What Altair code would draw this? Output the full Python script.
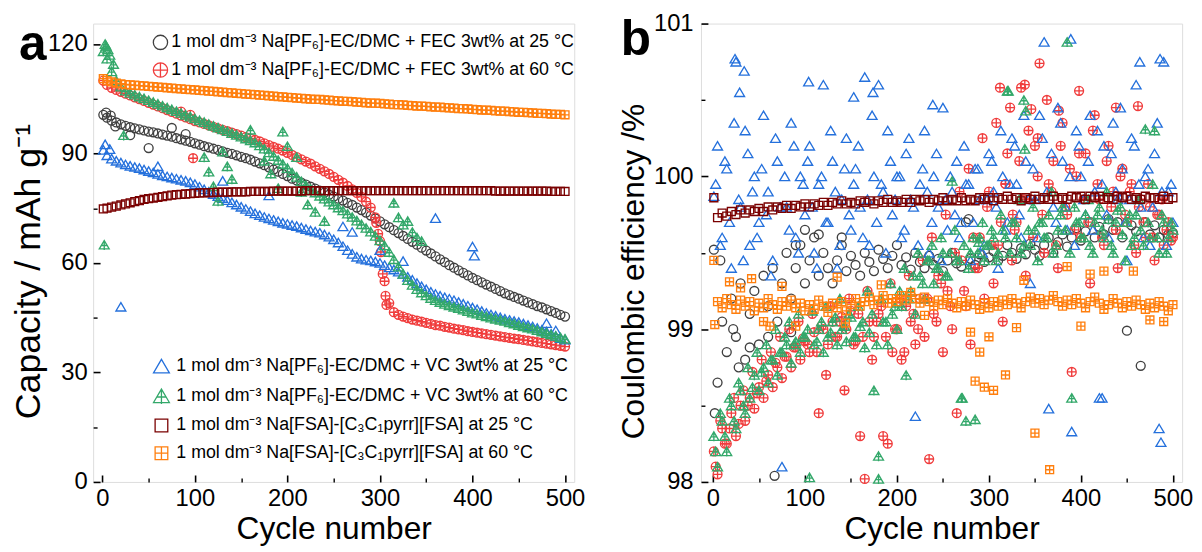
import altair as alt
import pandas as pd

FONT = "Liberation Sans"

# ---------------- series names ----------------
S_FEC25 = "1 mol dm⁻³ Na[PF₆]-EC/DMC + FEC 3wt% at 25 °C"
S_FEC60 = "1 mol dm⁻³ Na[PF₆]-EC/DMC + FEC 3wt% at 60 °C"
S_VC25 = "1 mol dm⁻³ Na[PF₆]-EC/DMC + VC 3wt% at 25 °C"
S_VC60 = "1 mol dm⁻³ Na[PF₆]-EC/DMC + VC 3wt% at 60 °C"
S_FSA25 = "1 mol dm⁻³ Na[FSA]-[C₃C₁pyrr][FSA] at 25 °C"
S_FSA60 = "1 mol dm⁻³ Na[FSA]-[C₃C₁pyrr][FSA] at 60 °C"

CYCLES = [1] + list(range(5, 501, 5))

# ---------------- panel a: capacity / mAh g-1 ----------------
CAP_FEC25 = [100.6, 99.8, 99.0, 98.5, 98.0, 97.6, 97.2, 96.9, 96.6, 96.3, 96.0, 95.8, 95.5, 95.2, 94.9, 94.6, 94.2, 93.9, 93.5, 93.2, 92.8,
             92.4, 92.0, 91.7, 91.3, 91.0, 90.6, 90.2, 89.9, 89.5, 89.1, 88.7, 88.3, 87.8, 87.3, 86.8, 86.2, 85.6, 85.0, 84.4, 83.8,
             83.1, 82.6, 82.0, 81.5, 80.9, 80.4, 79.8, 79.3, 78.7, 78.2, 77.6, 77.1, 76.5, 75.9, 75.2, 74.5, 73.8, 73.0, 72.2, 71.4,
             70.6, 69.8, 69.0, 68.2, 67.4, 66.6, 65.8, 65.0, 64.2, 63.4, 62.6, 61.8, 61.0, 60.2, 59.4, 58.7, 58.0, 57.3, 56.6, 55.9,
             55.3, 54.7, 54.1, 53.5, 52.9, 52.3, 51.7, 51.2, 50.7, 50.2, 49.7, 49.2, 48.7, 48.2, 47.8, 47.3, 46.8, 46.3, 45.8, 45.3]
CAP_FEC60 = [110.0, 108.8, 108.0, 107.4, 106.9, 106.4, 105.9, 105.4, 104.9, 104.4, 103.9, 103.4, 102.9, 102.4, 101.9, 101.4, 100.9, 100.4, 99.9, 99.4, 98.9,
             98.5, 98.1, 97.7, 97.3, 96.9, 96.5, 96.1, 95.7, 95.3, 94.9, 94.5, 94.1, 93.7, 93.3, 92.8, 92.3, 91.8, 91.3, 90.8, 90.2,
             89.6, 89.0, 88.4, 87.8, 87.2, 86.5, 85.8, 85.1, 84.4, 83.6, 82.8, 82.0, 81.1, 80.2, 79.2, 78.1, 76.8, 75.2, 72.5, 66.0,
             55.0, 49.0, 46.5, 45.8, 45.3, 44.9, 44.5, 44.2, 43.9, 43.6, 43.3, 43.0, 42.8, 42.5, 42.3, 42.0, 41.8, 41.6, 41.3, 41.1,
             40.9, 40.7, 40.5, 40.3, 40.1, 39.9, 39.7, 39.5, 39.3, 39.1, 38.9, 38.7, 38.5, 38.3, 38.1, 37.9, 37.7, 37.5, 37.3, 37.1]
CAP_VC25 = [91.0, 89.5, 88.6, 88.0, 87.5, 87.0, 86.6, 86.3, 86.0, 85.6, 85.2, 84.8, 84.4, 84.0, 83.7, 83.4, 83.1, 82.8, 82.5, 82.1, 81.6,
            80.9, 80.2, 79.5, 78.9, 78.3, 77.8, 77.2, 76.6, 76.0, 75.4, 74.8, 74.2, 73.6, 73.1, 72.6, 72.2, 71.8, 71.4, 71.0, 70.7,
            70.4, 70.1, 69.7, 69.3, 68.9, 68.6, 68.3, 67.8, 67.2, 66.5, 65.6, 64.6, 63.5, 62.5, 61.7, 61.2, 60.9, 60.7, 60.4, 60.0,
            59.4, 58.8, 58.2, 57.6, 57.0, 56.2, 55.4, 54.5, 53.6, 52.8, 52.1, 51.5, 51.0, 50.6, 50.2, 49.8, 49.3, 48.8, 48.3, 47.8,
            47.3, 46.8, 46.3, 45.9, 45.5, 45.1, 44.7, 44.4, 44.1, 43.8, 43.4, 43.0, 42.6, 42.2, 41.7, 41.2, 40.6, 40.0, 39.4, 39.0]
CAP_VC60 = [118.0, 116.0, 112.5, 110.0, 108.3, 107.2, 106.6, 106.1, 105.6, 105.1, 104.6, 104.1, 103.6, 103.1, 102.6, 102.1, 101.6, 101.1, 100.6, 100.1, 99.6,
            99.1, 98.6, 98.1, 97.6, 97.1, 96.6, 96.1, 95.6, 95.1, 94.6, 94.1, 93.6, 93.0, 92.2, 91.3, 90.3, 89.3, 88.2, 87.1, 86.0,
            84.8, 83.6, 82.4, 81.3, 80.3, 79.3, 78.4, 77.6, 76.8, 76.0, 75.2, 74.4, 73.5, 72.6, 71.6, 70.6, 69.6, 68.6, 67.4, 66.2,
            64.8, 63.0, 61.0, 59.0, 57.0, 55.3, 54.0, 52.8, 51.9, 51.1, 50.4, 49.8, 49.3, 48.8, 48.4, 48.0, 47.6, 47.2, 46.8, 46.4,
            46.1, 45.7, 45.4, 45.0, 44.7, 44.4, 44.1, 43.7, 43.4, 43.0, 42.6, 42.3, 42.0, 41.6, 41.2, 40.8, 40.4, 40.0, 39.6, 39.2]
CAP_FSA25 = [74.8, 75.0, 75.3, 75.6, 75.9, 76.2, 76.5, 76.8, 77.1, 77.4, 77.6, 77.8, 78.0, 78.2, 78.4, 78.6, 78.7, 78.8, 78.9, 79.0, 79.1,
             79.2, 79.2, 79.3, 79.3, 79.4, 79.4, 79.4, 79.5, 79.5, 79.5, 79.5, 79.6, 79.6, 79.6, 79.6, 79.6, 79.7, 79.7, 79.7, 79.7,
             79.7, 79.7, 79.7, 79.8, 79.8, 79.8, 79.8, 79.8, 79.8, 79.8, 79.8, 79.8, 79.8, 79.8, 79.8, 79.8, 79.8, 79.8, 79.8, 79.8,
             79.8, 79.8, 79.8, 79.8, 79.8, 79.8, 79.8, 79.8, 79.8, 79.8, 79.8, 79.8, 79.8, 79.8, 79.8, 79.8, 79.8, 79.8, 79.8, 79.8,
             79.8, 79.8, 79.8, 79.8, 79.7, 79.7, 79.7, 79.7, 79.7, 79.7, 79.7, 79.7, 79.7, 79.7, 79.7, 79.7, 79.6, 79.6, 79.6, 79.6]
CAP_FSA60 = [110.5, 110.0, 109.6, 109.3, 109.1, 108.9, 108.8, 108.7, 108.6, 108.5, 108.4, 108.3, 108.2, 108.1, 108.0, 107.9, 107.8, 107.7, 107.6, 107.5, 107.4,
             107.3, 107.2, 107.1, 107.0, 106.9, 106.8, 106.7, 106.6, 106.5, 106.4, 106.3, 106.2, 106.1, 106.0, 105.9, 105.8, 105.7, 105.6, 105.5, 105.4,
             105.3, 105.2, 105.1, 105.0, 104.9, 104.8, 104.8, 104.7, 104.6, 104.5, 104.4, 104.3, 104.3, 104.2, 104.1, 104.0, 103.9, 103.8, 103.8, 103.7,
             103.6, 103.5, 103.4, 103.4, 103.3, 103.2, 103.1, 103.0, 103.0, 102.9, 102.8, 102.7, 102.7, 102.6, 102.5, 102.4, 102.3, 102.3, 102.2, 102.1,
             102.0, 101.9, 101.9, 101.8, 101.7, 101.6, 101.6, 101.5, 101.4, 101.3, 101.3, 101.2, 101.1, 101.0, 101.0, 100.9, 100.8, 100.7, 100.7, 100.6]

# scattered extra points (cycle, capacity)
XA_FEC25 = [(4, 101.2), (9, 100.4), (14, 97.4), (30, 95.0), (50, 91.5), (75, 97.0), (90, 95.3)]
XA_FEC60 = [(85, 101.5), (95, 100.6), (98, 88.7), (296, 71.0), (298, 68.0), (301, 63.0), (303, 57.0), (306, 51.0), (307, 48.5)]
XA_VC25 = [(3, 92.5), (8, 91.2), (20, 48.0), (60, 86.5), (130, 82.5), (180, 78.5), (260, 70.0), (270, 68.5),
           (300, 63.5), (325, 60.5), (360, 72.3), (400, 64.5), (402, 62.0), (480, 43.5), (490, 41.5)]
XA_VC60 = [(2, 65.0), (3, 120.0), (4, 119.5), (6, 118.5), (8, 117.0), (12, 114.5), (23, 95.0), (110, 89.0), (115, 85.0),
           (120, 81.0), (125, 77.0), (130, 90.5), (135, 86.5), (140, 83.0), (160, 96.5), (175, 88.0), (182, 84.5), (190, 80.5),
           (195, 96.0), (200, 92.0), (210, 89.0), (215, 79.5), (222, 76.0), (230, 74.0), (240, 71.5), (315, 76.5), (320, 72.5),
           (325, 70.5), (330, 71.5), (335, 68.5), (340, 67.0), (345, 66.0)]

# ---------------- panel b: coulombic efficiency / % ----------------
CE_FEC25 = [99.52, 98.65, 99.05, 98.85, 99.20, 98.95, 99.30, 98.80, 99.10, 99.25, 98.90, 99.35, 99.15, 99.40, 99.05, 99.30, 99.50, 99.20, 99.40, 99.55, 99.30,
            99.45, 99.60, 99.35, 99.50, 99.40, 99.30, 99.45, 99.55, 99.38, 99.48, 99.42, 99.35, 99.50, 99.44, 99.38, 99.52, 99.46, 99.40, 99.48, 99.55,
            99.42, 99.47, 99.39, 99.50, 99.44, 99.40, 99.48, 99.42, 99.46, 99.38, 99.45, 99.50, 99.43, 99.41, 99.70, 99.46, 99.42, 99.49, 99.44, 99.47,
            99.51, 99.45, 99.48, 99.55, 99.50, 99.46, 99.53, 99.49, 99.56, 99.52, 99.48, 99.55, 99.60, 99.50, 99.57, 99.62, 99.54, 99.60, 99.66, 99.58,
            99.64, 99.70, 99.60, 99.67, 99.62, 99.72, 99.65, 99.70, 99.60, 98.99, 99.68, 99.64, 98.76, 99.70, 99.62, 99.68, 99.60, 99.65, 99.62, 99.63]
CE_FEC60 = [98.20, 98.05, 98.35, 98.25, 98.45, 98.30, 98.50, 98.40, 98.55, 98.48, 98.62, 98.55, 98.70, 98.62, 98.75, 98.68, 98.82, 98.75, 98.88, 98.80, 98.92,
            98.85, 98.98, 98.45, 99.00, 98.90, 99.05, 98.95, 99.08, 99.00, 99.12, 98.92, 98.30, 98.02, 99.05, 98.95, 99.10, 98.30, 98.25, 98.85, 99.00,
            98.80, 99.15, 99.05, 98.90, 99.20, 98.95, 98.15, 99.10, 99.35, 98.85, 99.25, 99.00, 98.45, 99.45, 99.15, 98.90, 99.40, 99.60, 99.20, 99.90,
            99.30, 99.55, 99.05, 100.15, 99.45, 99.70, 100.58, 99.35, 99.85, 100.20, 100.74, 99.50, 99.95, 100.10, 99.40, 100.35, 99.75, 98.72, 100.00, 99.60,
            100.15, 99.30, 100.40, 99.85, 99.55, 100.20, 99.90, 99.40, 100.05, 99.70, 99.95, 99.50, 99.85, 99.60, 99.80, 99.45, 99.75, 99.55, 99.70, 99.60]
CE_VC25 = [99.87, 100.20, 99.60, 100.05, 99.40, 100.75, 99.80, 100.30, 99.55, 100.00, 99.70, 100.40, 99.90, 99.45, 100.10, 98.10, 99.80, 100.35, 99.60, 100.00, 99.75,
           100.20, 99.50, 99.95, 100.60, 99.70, 100.10, 99.40, 99.85, 100.25, 99.65, 100.05, 99.80, 100.65, 99.55, 100.00, 100.60, 99.90, 100.30, 99.75, 100.00,
           99.60, 100.15, 99.85, 98.43, 99.95, 100.30, 99.50, 100.00, 99.80, 100.45, 99.65, 99.90, 100.10, 99.70, 99.95, 99.45, 100.05, 99.85, 99.55, 100.15,
           99.90, 99.40, 100.00, 99.70, 100.25, 99.95, 99.60, 100.10, 99.30, 99.85, 100.40, 100.88, 98.48, 99.80, 100.45, 100.10, 99.65, 98.33, 100.30, 100.00,
           99.75, 100.40, 99.90, 98.55, 100.20, 99.60, 100.35, 99.85, 100.05, 99.45, 100.25, 100.60, 99.80, 100.00, 99.55, 100.15, 98.35, 100.75, 99.90, 99.70]
CE_VC60 = [98.30, 98.10, 98.40, 98.20, 98.50, 98.35, 98.60, 98.45, 98.55, 98.70, 98.60, 98.75, 98.65, 98.80, 98.70, 98.85, 98.90, 98.78, 98.92, 98.85, 98.95,
           98.03, 98.90, 99.00, 98.85, 98.95, 99.05, 98.90, 99.00, 98.92, 99.08, 98.95, 99.02, 98.88, 98.98, 98.60, 98.17, 99.05, 98.90, 99.10, 99.00,
           99.15, 98.70, 99.25, 99.10, 99.35, 99.20, 99.45, 99.30, 99.40, 99.50, 99.35, 99.97, 99.45, 98.55, 98.40, 99.50, 98.41, 99.60, 99.45, 99.55,
           99.60, 99.50, 99.65, 100.56, 99.70, 99.60, 99.50, 100.43, 99.55, 99.65, 99.70, 99.60, 99.75, 99.50, 99.65, 99.80, 100.88, 98.55, 99.70, 99.60,
           99.75, 99.55, 99.70, 99.80, 99.60, 99.72, 99.50, 99.78, 99.62, 99.70, 99.55, 99.75, 99.65, 100.31, 99.60, 100.30, 99.50, 99.70, 99.60, 99.65]
CE_FSA25 = [99.86, 99.73, 99.76, 99.74, 99.77, 99.75, 99.78, 99.76, 99.78, 99.77, 99.79, 99.77, 99.80, 99.78, 99.80, 99.79, 99.81, 99.79, 99.81, 99.80, 99.82,
            99.80, 99.82, 99.81, 99.83, 99.81, 99.83, 99.82, 99.84, 99.82, 99.83, 99.82, 99.84, 99.83, 99.84, 99.82, 99.84, 99.83, 99.85, 99.83, 99.84,
            99.83, 99.85, 99.83, 99.85, 99.84, 99.85, 99.83, 99.85, 99.84, 99.86, 99.84, 99.85, 99.84, 99.86, 99.84, 99.85, 99.84, 99.86, 99.85, 99.86,
            99.84, 99.86, 99.85, 99.87, 99.85, 99.86, 99.84, 99.86, 99.85, 99.87, 99.85, 99.86, 99.85, 99.87, 99.85, 99.86, 99.85, 99.87, 99.86, 99.87,
            99.85, 99.87, 99.86, 99.87, 99.85, 99.86, 99.85, 99.87, 99.86, 99.87, 99.85, 99.86, 99.85, 99.87, 99.86, 99.86, 99.85, 99.87, 99.85, 99.86]
CE_FSA60 = [99.45, 99.18, 99.14, 99.20, 99.16, 99.13, 99.19, 99.15, 99.18, 99.12, 99.17, 99.14, 99.20, 99.16, 99.13, 99.18, 99.15, 99.19, 99.14, 99.17, 99.12,
            99.16, 99.13, 99.19, 99.15, 99.11, 99.17, 99.14, 99.18, 99.12, 99.16, 99.20, 99.15, 99.18, 99.21, 99.16, 99.19, 99.22, 99.17, 99.20, 99.18,
            99.22, 99.19, 99.24, 99.20, 99.17, 99.21, 99.18, 99.15, 99.19, 99.16, 99.20, 99.17, 99.14, 99.18, 99.15, 99.19, 99.16, 99.13, 99.17, 99.14,
            99.18, 99.15, 99.19, 99.16, 99.20, 99.17, 99.14, 99.18, 99.21, 99.17, 99.20, 99.16, 99.19, 99.22, 99.18, 99.15, 99.19, 99.16, 99.20, 99.17,
            99.14, 99.18, 99.21, 99.17, 99.13, 99.16, 99.20, 99.17, 99.14, 99.18, 99.15, 99.19, 99.16, 99.13, 99.17, 99.14, 99.18, 99.15, 99.12, 99.16]

# second reading, between the 5-cycle points (cycles 3, 8, 13, ... 498)
CYCLES_MID = list(range(3, 500, 5))
CE2_VC25 = [99.95, 99.55, 100.10, 99.70, 100.35, 99.85, 99.45, 100.15, 99.90, 99.60, 100.05, 99.75, 99.35, 100.25, 99.80, 100.00, 99.65, 100.20, 99.50, 99.95,
            100.10, 99.80, 99.40, 100.00, 99.70, 100.30, 99.90, 99.55, 100.05, 99.75, 99.95, 100.20, 99.60, 99.85, 100.40, 99.70, 99.95, 99.50, 100.10, 99.85,
            100.00, 99.65, 100.25, 99.80, 99.55, 100.05, 99.90, 99.70, 100.15, 99.45, 99.85, 100.00, 99.75, 99.60, 100.20, 99.95, 99.70, 100.05, 99.50, 99.85,
            100.10, 99.80, 100.30, 99.65, 99.95, 100.20, 99.75, 100.40, 99.85, 100.05, 99.60, 100.25, 99.90, 100.15, 99.70, 100.35, 99.80, 100.00, 99.55, 100.20,
            99.85, 100.10, 99.65, 100.30, 99.95, 99.75, 100.15, 99.90, 100.45, 99.70, 99.85, 100.20, 99.95, 99.60, 100.05, 99.80, 100.35, 99.90, 99.55, 99.95]
CE2_VC60 = [98.20, 98.45, 98.30, 98.55, 98.40, 98.65, 98.50, 98.75, 98.62, 98.85, 98.72, 98.90, 98.80, 99.00, 98.85, 98.95, 99.05, 98.90, 99.10, 98.95,
            99.00, 99.12, 98.92, 99.05, 99.15, 98.98, 99.08, 99.20, 99.02, 99.10, 98.95, 99.15, 99.05, 99.25, 99.10, 98.90, 99.20, 99.05, 99.30, 99.15,
            99.25, 99.40, 99.20, 99.35, 99.50, 99.30, 99.45, 99.55, 99.40, 99.60, 99.35, 99.50, 99.65, 99.45, 99.55, 99.40, 99.60, 99.50, 99.70, 99.55,
            99.65, 99.45, 99.75, 99.60, 99.50, 99.70, 99.85, 99.55, 99.65, 99.80, 99.45, 99.70, 99.60, 99.90, 99.55, 99.75, 99.65, 99.50, 99.80, 99.70,
            99.60, 99.85, 99.50, 99.75, 99.65, 99.90, 99.55, 99.70, 99.80, 99.45, 99.75, 99.60, 99.85, 99.55, 99.70, 99.95, 99.60, 99.75, 99.50, 99.70]
CE2_FEC60 = [98.10, 98.40, 98.25, 98.35, 98.55, 98.38, 98.60, 98.50, 98.72, 98.58, 98.80, 98.66, 98.85, 98.78, 98.95, 98.82, 99.00, 98.88, 99.05, 98.94,
             98.90, 99.10, 98.85, 99.02, 98.70, 99.15, 98.95, 99.05, 98.60, 99.20, 98.90, 99.10, 98.95, 99.25, 98.80, 99.05, 99.15, 98.95, 99.30, 99.00,
             99.20, 98.85, 99.35, 99.10, 99.00, 99.45, 99.20, 99.60, 99.05, 99.30, 99.75, 99.15, 99.50, 99.90, 99.25, 100.05, 99.60, 99.40, 100.25, 99.80,
             99.55, 100.35, 99.70, 99.95, 100.45, 99.65, 100.10, 99.85, 100.30, 99.60, 100.00, 99.75, 100.50, 99.90, 99.55, 100.20, 99.80, 100.05, 99.65, 100.15,
             99.85, 99.70, 100.30, 99.95, 99.60, 100.10, 99.80, 99.65, 100.00, 99.75, 99.90, 99.55, 99.80, 99.70, 99.95, 99.60, 99.75, 99.85, 99.65, 99.58]

XB_FEC25 = [(2, 98.45), (8, 99.45), (22, 99.00), (28, 98.75), (40, 98.88), (60, 98.95), (67, 98.04), (85, 98.98),
            (90, 99.55), (100, 99.65), (115, 99.62), (140, 99.60), (278, 99.72)]
XB_FEC60 = [(312, 100.58), (339, 100.60), (346, 100.44), (353, 100.25), (376, 100.43), (398, 100.56), (438, 100.45),
            (462, 100.46), (318, 99.95), (326, 99.75)]
XB_VC25 = [(24, 100.77), (29, 100.55), (34, 100.69), (104, 100.62), (153, 100.52), (174, 100.55), (239, 100.47),
           (389, 100.90), (464, 100.75), (486, 100.77), (487, 98.26), (423, 98.55)]
XB_VC60 = [(180, 98.02), (271, 98.55), (321, 100.56), (338, 100.50), (339, 100.18), (289, 99.57)]
XB_FSA60 = [(2, 99.03), (18, 99.31), (30, 99.27), (42, 99.33), (55, 99.05), (62, 99.02), (75, 99.28), (90, 99.02),
            (135, 99.34), (144, 99.04), (183, 99.29), (230, 99.09), (280, 98.98), (290, 98.85), (300, 98.95),
            (285, 98.66), (295, 98.62), (305, 98.60), (318, 98.70), (330, 99.01), (338, 99.32), (350, 98.32),
            (366, 98.08), (385, 99.41), (400, 99.02), (410, 99.36), (425, 99.38), (457, 99.38), (475, 99.06), (490, 99.05)]

# ---------------- marker shapes / colours ----------------
CIRCLE = "M-0.9,0A0.9,0.9 0 1,1 0.9,0A0.9,0.9 0 1,1 -0.9,0Z"
CIRCLE_PLUS = CIRCLE + " M-0.9,0L0.9,0M0,-0.9L0,0.9"
TRI = "M0,-0.85L1,0.85L-1,0.85Z"
TRI_PLUS = TRI + " M0,-0.85L0,1.05M-0.55,0.15L0.55,0.15"
SQ = "M-0.8,-0.8L0.8,-0.8L0.8,0.8L-0.8,0.8Z"
SQ_PLUS = SQ + " M-0.8,0L0.8,0M0,-0.8L0,0.8"

ORDER = [S_FEC25, S_FEC60, S_VC25, S_VC60, S_FSA25, S_FSA60]
COLORS = {S_FEC25: "#404040", S_FEC60: "#f03c3c", S_VC25: "#2470dc", S_VC60: "#33a86a",
          S_FSA25: "#7a0000", S_FSA60: "#ff7f0e"}
SHAPES = {S_FEC25: CIRCLE, S_FEC60: CIRCLE_PLUS, S_VC25: TRI, S_VC60: TRI_PLUS,
          S_FSA25: SQ, S_FSA60: SQ_PLUS}


def frame(series_list, main, mids, extras):
    rows = []
    for s in series_list:
        for c, v in zip(CYCLES, main[s]):
            rows.append({"cycle": c, "value": v, "series": s})
        for c, v in zip(CYCLES_MID, mids.get(s, [])):
            rows.append({"cycle": c, "value": v, "series": s})
        for c, v in extras.get(s, []):
            rows.append({"cycle": c, "value": v, "series": s})
    return pd.DataFrame(rows)


MAIN_A = {S_FEC25: CAP_FEC25, S_FEC60: CAP_FEC60, S_VC25: CAP_VC25, S_VC60: CAP_VC60,
          S_FSA25: CAP_FSA25, S_FSA60: CAP_FSA60}
EXTRA_A = {S_FEC25: XA_FEC25, S_FEC60: XA_FEC60, S_VC25: XA_VC25, S_VC60: XA_VC60}
MAIN_B = {S_FEC25: CE_FEC25, S_FEC60: CE_FEC60, S_VC25: CE_VC25, S_VC60: CE_VC60,
          S_FSA25: CE_FSA25, S_FSA60: CE_FSA60}
MID_B = {S_VC25: CE2_VC25, S_VC60: CE2_VC60, S_FEC60: CE2_FEC60}
EXTRA_B = {S_FEC25: XB_FEC25, S_FEC60: XB_FEC60, S_VC25: XB_VC25, S_VC60: XB_VC60, S_FSA60: XB_FSA60}

TOP = [S_FEC25, S_FEC60]
BOT = [S_VC25, S_VC60, S_FSA25, S_FSA60]

dfA1 = frame(TOP, MAIN_A, {}, EXTRA_A)
dfA2 = frame(BOT, MAIN_A, {}, EXTRA_A)
dfB = frame(ORDER, MAIN_B, MID_B, EXTRA_B)

W, H = 486, 463
LBL = 24


def major_axis(values, title, orient, title_size=32, label_pad=12, title_y=None, title_pad=3):
    kw = dict(values=values, orient=orient, tickSize={"expr": "-7"}, domain=False, grid=False,
              labelFontSize=LBL, labelPadding=label_pad, title=title, titleFontSize=title_size,
              titleFontWeight="normal", labelFlush=False, labelOverlap=False,
              tickColor="black", tickWidth=1.6, labelColor="black", titleColor="black",
              labelFont=FONT, titleFont=FONT, titlePadding=title_pad)
    if title_y is not None:
        kw["titleY"] = title_y
    return alt.Axis(**kw)


def minor_axis(values, orient):
    return alt.Axis(values=values, orient=orient, tickSize={"expr": "-4"}, domain=False, grid=False,
                    labels=False, title=None, tickColor="black", tickWidth=1.4)


def legend(x, y, rowpad, offset):
    return alt.Legend(orient="none", legendX=x, legendY=y, direction="vertical", title=None,
                      padding=0, rowPadding=rowpad, labelFontSize=18, labelFont=FONT,
                      labelColor="black", labelLimit=800, symbolSize=256, symbolStrokeWidth=1.3,
                      labelOffset=offset)


def scatter_layer(df, series, xscale, yscale, xaxis, yaxis, leg):
    return alt.Chart(df).mark_point(filled=False, size=100, strokeWidth=1.35, opacity=1).encode(
        x=alt.X("cycle:Q", scale=xscale, axis=xaxis),
        y=alt.Y("value:Q", scale=yscale, axis=yaxis),
        stroke=alt.Stroke("series:N", scale=alt.Scale(domain=series, range=[COLORS[s] for s in series]),
                          legend=leg),
        shape=alt.Shape("series:N", scale=alt.Scale(domain=series, range=[SHAPES[s] for s in series]),
                        legend=leg),
    )


def minor_layer(df, xscale, yscale, xminor, yminor):
    return alt.Chart(df).mark_point(opacity=0).encode(
        x=alt.X("cycle:Q", scale=xscale, axis=minor_axis(xminor, "bottom")),
        y=alt.Y("value:Q", scale=yscale, axis=minor_axis(yminor, "left")),
    )


def panel_label(df, letter, x, y):
    return alt.Chart(df).mark_text(text=letter, font=FONT, fontSize=50, fontWeight="bold",
                                   align="left", baseline="alphabetic", color="black").encode(
        x=alt.value(x), y=alt.value(y))


# ----- panel a -----
xa = alt.Scale(domain=[-10, 510], nice=False, zero=False)
ya = alt.Scale(domain=[0, 125.6], nice=False, zero=False)
pa = alt.layer(
    scatter_layer(dfA1, TOP, xa, ya,
                  major_axis([0, 100, 200, 300, 400, 500], "Cycle number", "bottom"),
                  major_axis([0, 30, 60, 90, 120], "Capacity / mAh g⁻¹", "left", 36, 13, 250, 0),
                  legend(59, 10, 8, 2)),
    scatter_layer(dfA2, BOT, xa, ya, None, None, legend(60, 337, 10, 6)),
    minor_layer(dfA1, xa, ya, [50, 150, 250, 350, 450], [15, 45, 75, 105]),
    panel_label(dfA1.head(1), "a", -75, 37),
).resolve_scale(stroke="independent", shape="independent").resolve_axis(
    x="independent", y="independent").properties(width=W, height=H)

# ----- panel b -----
xb = alt.Scale(domain=[-13, 510], nice=False, zero=False)
yb = alt.Scale(domain=[98, 101], nice=False, zero=False)
pb = alt.layer(
    scatter_layer(dfB, ORDER, xb, yb,
                  major_axis([0, 100, 200, 300, 400, 500], "Cycle number", "bottom"),
                  major_axis([98, 99, 100, 101], "Coulombic efficiency /%", "left", 32, 15, 250),
                  None),
    minor_layer(dfB, xb, yb, [50, 150, 250, 350, 450], [98.5, 99.5, 100.5]),
    panel_label(dfB.head(1), "b", -81, 32),
).resolve_axis(x="independent", y="independent").properties(width=W, height=H)

chart = alt.hconcat(pa, pb, spacing=31).properties(
    padding={"left": 2, "top": 0, "right": 0, "bottom": 0}
).configure_view(stroke="black", strokeWidth=2).configure(font=FONT)

chart.save("out.html", embed_options={"renderer": "svg", "actions": False})
